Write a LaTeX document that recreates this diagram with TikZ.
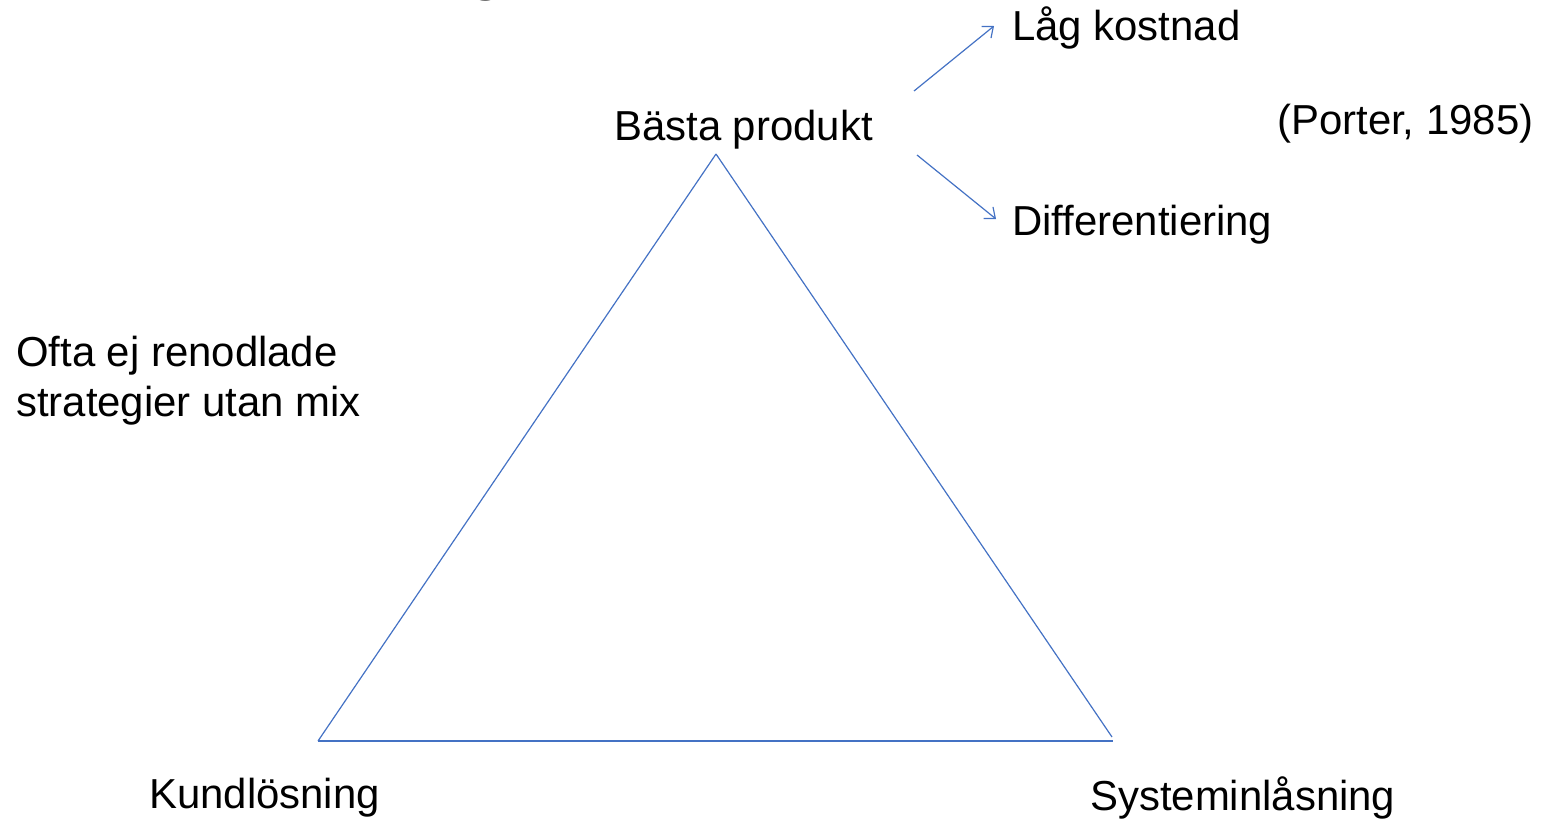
\documentclass[tikz,border=0pt]{standalone}
\usepackage{fontspec}
\setmainfont{Liberation Sans}
\usetikzlibrary{arrows.meta}
\definecolor{lineblue}{HTML}{4472C4}
\tikzset{
  lbl/.style={anchor=base west, inner sep=0pt, font=\fontsize{41.9}{49}\selectfont, text=black},
  edge/.style={draw=lineblue, line width=1.2pt},
  base/.style={draw=lineblue, line width=2.2pt},
  arr/.style={draw=lineblue, line width=1.2pt, -{Straight Barb[length=9pt,width=15pt,line width=1.2pt]}}
}
\begin{document}
\begin{tikzpicture}[x=1pt,y=-1pt]
\useasboundingbox (0,0) rectangle (1544,820);
\begin{scope}
\clip (0,0) rectangle (1544,820);
\node[anchor=base west, inner sep=0pt, font=\fontsize{75}{80}\selectfont] (title) at (465,-14.5) {g};
\end{scope}
% triangle corners
\coordinate (apex) at (716,154);
\coordinate (bl) at (318,741);
\coordinate (br) at (1113,741);
\coordinate (brtop) at (1112,737);
\draw[edge] (apex) -- (bl);
\draw[edge] (apex) -- (brtop);
\draw[base] (bl) -- (br);
% labels
\node[lbl] (lag) at (1012,40) {Låg kostnad};
\node[lbl] (basta) at (614,140) {Bästa produkt};
\node[lbl] (porter) at (1277,134) {(Porter, 1985)};
\node[lbl] (diff) at (1012,235) {Differentiering};
\node[lbl] (ofta1) at (16,366) {Ofta ej renodlade};
\node[lbl] (ofta2) at (16,416) {strategier utan mix};
\node[lbl] (kund) at (149,808) {Kundlösning};
\node[lbl] (sys) at (1090,810) {Systeminlåsning};
% arrows
\coordinate (a1s) at (914,91);
\coordinate (a1e) at (994,26);
\coordinate (a2s) at (917,155);
\coordinate (a2e) at (996,219);
\draw[arr] (a1s) -- (a1e);
\draw[arr] (a2s) -- (a2e);
\end{tikzpicture}
\end{document}
